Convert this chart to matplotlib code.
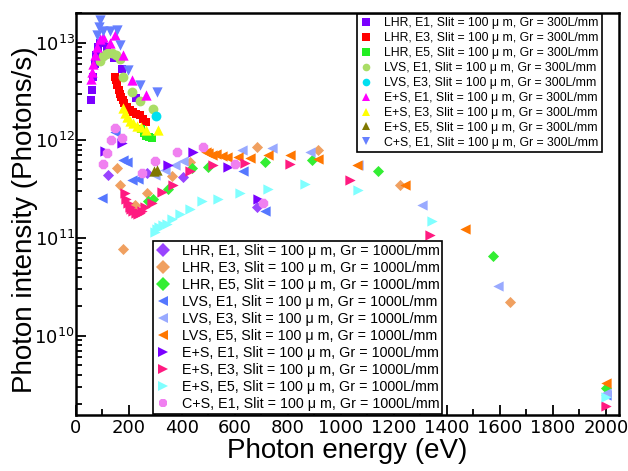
import matplotlib
matplotlib.use("Agg")
import matplotlib.pyplot as plt
from matplotlib.ticker import MultipleLocator, LogLocator, NullFormatter
from matplotlib.lines import Line2D

plt.rcParams['font.family'] = ['Liberation Sans', 'DejaVu Sans']
plt.rcParams['mathtext.default'] = 'regular'

# ---- 300 L/mm grating ----
lhr_e1_300_x = [57, 62, 66, 71, 76, 82, 92, 102, 117, 142, 172, 226]
lhr_e1_300_y = [2.6e12, 3.3e12, 4.5e12, 6e12, 7.5e12, 9e12, 1.0e13, 1.0e13, 9e12, 7e12, 5.4e12, 2.7e12]
lhr_e3_300_x = [148, 152, 156, 161, 166, 171, 176, 183, 191, 203, 216, 228, 241, 254, 266]
lhr_e3_300_y = [4.5e12, 4.1e12, 3.7e12, 3.3e12, 3.0e12, 2.8e12, 2.6e12, 2.4e12, 2.2e12, 2.05e12, 1.95e12, 1.85e12, 1.8e12, 1.65e12, 1.55e12]
lhr_e5_300_x = [246, 256, 266, 276, 286]
lhr_e5_300_y = [1.3e12, 1.2e12, 1.12e12, 1.08e12, 1.05e12]
lvs_e1_300_x = [92, 102, 112, 122, 137, 152, 167, 179, 210, 241, 291]
lvs_e1_300_y = [6.5e12, 7.3e12, 7.6e12, 7.8e12, 7.8e12, 7.5e12, 6.8e12, 4.5e12, 3.1e12, 2.5e12, 2.1e12]
lvs_e3_300_x = [301]
lvs_e3_300_y = [1.78e12]
es_e1_300_x = [56, 60, 66, 72, 79, 91, 103, 129, 147, 176, 210, 264]
es_e1_300_y = [4.2e12, 5e12, 6.1e12, 7.5e12, 9.1e12, 1.1e13, 1.15e13, 9.8e12, 1.2e13, 7.5e12, 4.1e12, 2.9e12]
es_e3_300_x = [179, 185, 193, 204, 216, 229, 247, 266, 310]
es_e3_300_y = [2.12e12, 1.89e12, 1.72e12, 1.58e12, 1.49e12, 1.40e12, 1.36e12, 1.29e12, 1.27e12]
es_e5_300_x = [295, 304]
es_e5_300_y = [4.8e11, 5e11]
cs_e1_300_x = [79, 86, 91, 103, 129, 154, 166, 197, 241, 304]
cs_e1_300_y = [1.2e13, 1.46e13, 1.7e13, 1.3e13, 1.3e13, 1.35e13, 9.5e12, 5.3e12, 3.7e12, 3.1e12]

# ---- 1000 L/mm grating ----
lhr_e1_1000_x = [122, 267, 405, 682]
lhr_e1_1000_y = [4.4e11, 4.6e11, 4.2e11, 2.1e11]
lhr_e3_1000_x = [154, 166, 178, 223, 267, 361, 430, 682, 914, 1223, 1638]
lhr_e3_1000_y = [5.2e11, 3.5e11, 7.8e10, 2.2e11, 2.9e11, 4.3e11, 6e11, 8.5e11, 7.9e11, 3.5e11, 2.2e10]
lhr_e5_1000_x = [273, 292, 348, 437, 499, 713, 889, 1141, 1575, 2000]
lhr_e5_1000_y = [2.4e11, 2.5e11, 3.2e11, 5.2e11, 5.4e11, 6e11, 6.3e11, 4.8e11, 6.5e10, 2.9e9]
lvs_e1_1000_x = [97, 147, 178, 191, 210, 235, 631, 713, 2000]
lvs_e1_1000_y = [2.6e11, 1.23e12, 6.3e11, 6e11, 3.9e11, 4.0e11, 4.8e11, 1.9e11, 2.5e9]
lvs_e3_1000_x = [298, 336, 374, 405, 625, 738, 883, 1065, 1305, 1594, 2000]
lvs_e3_1000_y = [4.4e11, 5e11, 5.6e11, 6.1e11, 8e11, 8.3e11, 7.6e11, 5.6e11, 2.2e11, 3.2e10, 2.6e9]
lvs_e5_1000_x = [490, 499, 512, 530, 550, 570, 612, 657, 726, 808, 914, 1059, 1242, 1468, 2000]
lvs_e5_1000_y = [7.6e11, 7.4e11, 7.1e11, 7.2e11, 6.9e11, 6.7e11, 6.8e11, 6.6e11, 7.1e11, 7.1e11, 6.5e11, 5.6e11, 3.5e11, 1.25e11, 3.3e9]
es_e1_1000_x = [109, 172, 348, 443, 575, 688]
es_e1_1000_y = [7.7e11, 9.3e11, 5.6e11, 7.6e11, 5.4e11, 2.5e11]
es_e3_1000_x = [185, 190, 196, 202, 208, 215, 226, 233, 242, 250, 260, 286, 323, 367, 430, 518, 638, 808, 1034, 1336, 2000]
es_e3_1000_y = [2.9e11, 2.5e11, 2.3e11, 2.1e11, 2.0e11, 1.9e11, 1.8e11, 1.75e11, 1.82e11, 1.9e11, 2.1e11, 2.3e11, 2.95e11, 3.5e11, 4.8e11, 5.6e11, 5.8e11, 5.7e11, 3.9e11, 1.07e11, 1.9e9]
es_e5_1000_x = [297, 305, 315, 330, 345, 361, 392, 430, 474, 537, 619, 726, 864, 1065, 1342, 2000]
es_e5_1000_y = [1.15e11, 1.25e11, 1.3e11, 1.35e11, 1.4e11, 1.58e11, 1.78e11, 2e11, 2.4e11, 2.5e11, 2.9e11, 3.2e11, 3.6e11, 3.1e11, 1.5e11, 2.35e9]
cs_e1_1000_x = [103, 116, 132, 147, 172, 248, 298, 380, 481, 600, 707]
cs_e1_1000_y = [5.7e11, 7.4e11, 1.0e12, 1.35e12, 1.05e12, 4.6e11, 6.2e11, 7.6e11, 8.6e11, 5.7e11, 2.3e11]

series_300 = [
    ("LHR, E1", lhr_e1_300_x, lhr_e1_300_y, 's', '#7b00ff'),
    ("LHR, E3", lhr_e3_300_x, lhr_e3_300_y, 's', '#ff0000'),
    ("LHR, E5", lhr_e5_300_x, lhr_e5_300_y, 's', '#22ee22'),
    ("LVS, E1", lvs_e1_300_x, lvs_e1_300_y, 'o', '#aadd66'),
    ("LVS, E3", lvs_e3_300_x, lvs_e3_300_y, 'o', '#00e0f0'),
    ("E+S, E1", es_e1_300_x, es_e1_300_y, '^', '#ff00ff'),
    ("E+S, E3", es_e3_300_x, es_e3_300_y, '^', '#ffff00'),
    ("E+S, E5", es_e5_300_x, es_e5_300_y, '^', '#807800'),
    ("C+S, E1", cs_e1_300_x, cs_e1_300_y, 'v', '#6680ff'),
]
series_1000 = [
    ("LHR, E1", lhr_e1_1000_x, lhr_e1_1000_y, 'D', '#9944ff'),
    ("LHR, E3", lhr_e3_1000_x, lhr_e3_1000_y, 'D', '#f0a060'),
    ("LHR, E5", lhr_e5_1000_x, lhr_e5_1000_y, 'D', '#33ee33'),
    ("LVS, E1", lvs_e1_1000_x, lvs_e1_1000_y, '<', '#5577ff'),
    ("LVS, E3", lvs_e3_1000_x, lvs_e3_1000_y, '<', '#99aaff'),
    ("LVS, E5", lvs_e5_1000_x, lvs_e5_1000_y, '<', '#ff7700'),
    ("E+S, E1", es_e1_1000_x, es_e1_1000_y, '>', '#7a00ff'),
    ("E+S, E3", es_e3_1000_x, es_e3_1000_y, '>', '#ff1a80'),
    ("E+S, E5", es_e5_1000_x, es_e5_1000_y, '>', '#80ffff'),
    ("C+S, E1", cs_e1_1000_x, cs_e1_1000_y, '8', '#f080f0'),
]

fig = plt.figure(figsize=(6.28, 4.71), dpi=100)
ax = fig.add_axes([0.121, 0.119, 0.865, 0.853])

sizes = {'s': 40, 'o': 50, '^': 55, 'v': 55, 'D': 32, '<': 55, '>': 55, '8': 55}

for name, x, y, m, c in series_1000:
    ax.scatter(x, y, marker=m, c=c, s=sizes[m], linewidths=0, zorder=2)
for name, x, y, m, c in series_300:
    ax.scatter(x, y, marker=m, c=c, s=sizes[m], linewidths=0, zorder=3)

ax.set_yscale('log')
ax.set_xlim(0, 2050)
ax.set_ylim(1.55e9, 2.0e13)

ax.xaxis.set_major_locator(MultipleLocator(200))
ax.xaxis.set_minor_locator(MultipleLocator(100))
ax.yaxis.set_major_locator(LogLocator(base=10, numticks=10))
ax.yaxis.set_minor_locator(LogLocator(base=10, subs=range(2, 10), numticks=10))
ax.yaxis.set_minor_formatter(NullFormatter())
ax.tick_params(which='both', direction='in', top=False, right=False, width=1.3)
ax.tick_params(which='major', length=7)
ax.tick_params(which='minor', length=4)
ax.tick_params(axis='x', pad=3)
ax.tick_params(axis='y', pad=1)
narrow = ['Liberation Sans Narrow', 'DejaVu Sans']
for lab in ax.get_xticklabels():
    lab.set_fontfamily(narrow)
    lab.set_fontsize(13)
for lab in ax.get_yticklabels():
    lab.set_fontfamily(narrow)
    lab.set_fontsize(13)
for sp in ax.spines.values():
    sp.set_linewidth(1.8)

ax.set_xlabel("Photon energy (eV)", fontsize=20)
ax.xaxis.set_label_coords(0.5, -0.058)
ax.set_ylabel("Photon intensity (Photons/s)", fontsize=20)
ax.yaxis.set_label_coords(-0.07, 0.485)

hs = [Line2D([], [], ls='none', marker=m, color=c, markersize=5.5, markeredgewidth=0)
      for _, _, _, m, c in series_300]
labs = [n + ", Slit = 100 μ m, Gr = 300L/mm" for n, _, _, _, _ in series_300]
leg1 = ax.legend(hs, labs, loc='upper right', bbox_to_anchor=(602 / 628, 1 - 14 / 471),
                 bbox_transform=fig.transFigure, fontsize=8.8, labelspacing=0.24,
                 handlelength=1.0, handletextpad=0.98, borderpad=0.26, borderaxespad=0,
                 frameon=True, fancybox=False, edgecolor='black', framealpha=1)
leg1.get_frame().set_linewidth(1.2)
ax.add_artist(leg1)

hs2 = [Line2D([], [], ls='none', marker=m, color=c, markersize=7, markeredgewidth=0)
       for _, _, _, m, c in series_1000]
labs2 = [n + ", Slit = 100 μ m, Gr = 1000L/mm" for n, _, _, _, _ in series_1000]
leg2 = ax.legend(hs2, labs2, loc='upper left', bbox_to_anchor=(153 / 628, 1 - 241 / 471),
                 bbox_transform=fig.transFigure, fontsize=10.3, labelspacing=0.21,
                 handlelength=1.0, handletextpad=0.81, borderpad=0.2, borderaxespad=0,
                 frameon=True, fancybox=False, edgecolor='black', framealpha=1)
leg2.get_frame().set_linewidth(1.2)

fig.savefig("out.png", dpi=100)
